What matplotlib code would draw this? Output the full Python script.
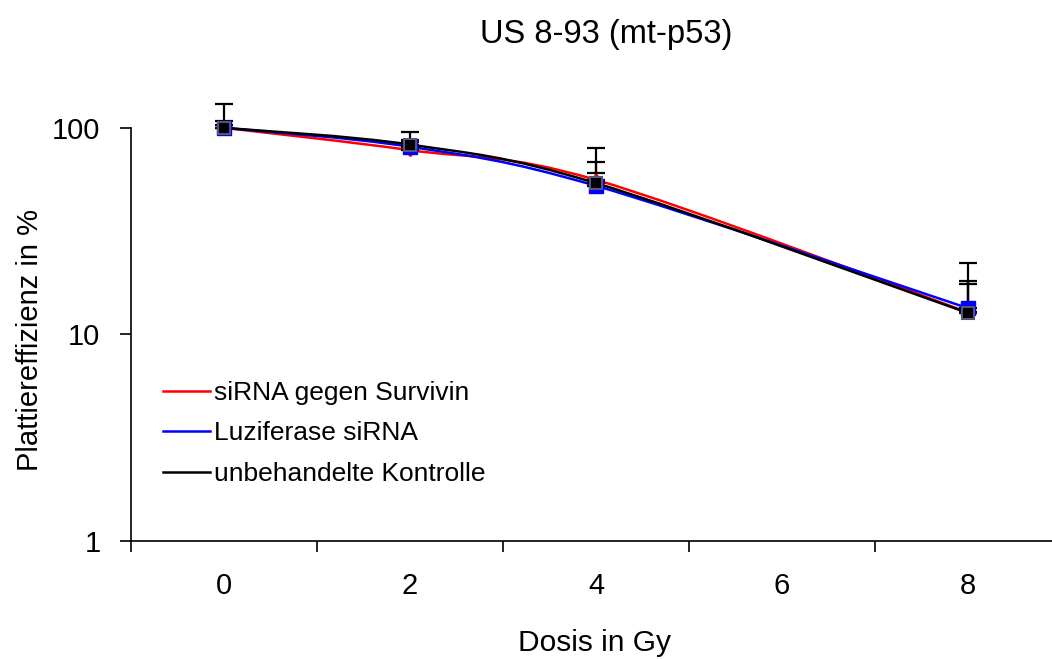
import numpy as np
import matplotlib.pyplot as plt
from matplotlib.path import Path
from matplotlib.patches import PathPatch

plt.rcParams['font.family'] = ['Liberation Sans', 'DejaVu Sans']

dose = [0, 2, 4, 8]
survivin = [100, 78, 56, 12.8]
luciferase = [100, 81, 52.4, 13.4]
kontrolle = [100, 83, 54, 12.7]

survivin_err_top = [130.7, 95.6, 68.5, 17.6]
luciferase_err_top = [108, 87.5, 60.5, 22.2]
kontrolle_err_top = [103, 85, 80, 18.2]

labels = ['siRNA gegen Survivin', 'Luziferase siRNA', 'unbehandelte Kontrolle']
colors = ['#ff0000', '#0000ff', '#000000']


def smooth_path(x, y):
    # Excel-like smoothed line: cubic bezier segments, controls in log space
    x = np.asarray(x, float)
    ly = np.log10(np.asarray(y, float))
    n = len(x)
    verts = [(x[0], 10 ** ly[0])]
    codes = [Path.MOVETO]
    for i in range(n - 1):
        i0 = max(i - 1, 0)
        i3 = min(i + 2, n - 1)
        c1 = (x[i] + (x[i + 1] - x[i0]) / 6, ly[i] + (ly[i + 1] - ly[i0]) / 6)
        c2 = (x[i + 1] - (x[i3] - x[i]) / 6, ly[i + 1] - (ly[i3] - ly[i]) / 6)
        verts += [(c1[0], 10 ** c1[1]), (c2[0], 10 ** c2[1]), (x[i + 1], 10 ** ly[i + 1])]
        codes += [Path.CURVE4] * 3
    return Path(verts, codes)


fig = plt.figure(figsize=(10.52, 6.59), dpi=100)
ax = fig.add_axes([0.1245, 0.179, 0.884, 0.627])
ax.set_yscale('log')
ax.set_xlim(-1, 9)
ax.set_ylim(1, 100)

series = [survivin, luciferase, kontrolle]
errs = [survivin_err_top, luciferase_err_top, kontrolle_err_top]

for vals, c in zip(series, colors):
    ax.add_patch(PathPatch(smooth_path(dose, vals), fill=False, edgecolor=c, lw=1.8,
                           zorder=2, clip_on=False))

for vals, top in zip(series, errs):
    up = np.array(top) - np.array(vals)
    eb = ax.errorbar(dose, vals, yerr=[np.zeros(len(vals)), up], fmt='none', ecolor='black',
                     elinewidth=1.6, capsize=6.5, capthick=1.6, zorder=3)
    for art in eb.lines[1] + eb.lines[2]:
        art.set_clip_on(False)

ax.plot(dose, survivin, ls='none', marker='D', ms=6, mfc='red', mec='red', zorder=4, clip_on=False)
ax.plot(dose, luciferase, ls='none', marker='s', ms=10, mfc='#0000ff', mec='#0000ff', zorder=5,
        clip_on=False)
ax.plot(dose, kontrolle, ls='none', marker='s', ms=9, mfc='black', mec='#555577', mew=1.5,
        zorder=6, clip_on=False)

for lab, c in zip(labels, colors):
    ax.plot([], [], color=c, lw=1.8, label=lab)
ax.legend(loc='upper left', bbox_to_anchor=(0.0344, 0.387), bbox_transform=ax.transAxes,
          frameon=False, fontsize=19, handlelength=1.8, handletextpad=0.12,
          labelspacing=0.62, borderaxespad=0, borderpad=0)

for s in ['top', 'right']:
    ax.spines[s].set_visible(False)
ax.spines['left'].set_linewidth(1.2)
ax.spines['bottom'].set_linewidth(1.2)

ax.set_yticks([1, 10, 100])
ax.set_yticklabels(['1', '10', '100'])
ax.yaxis.set_minor_locator(plt.NullLocator())
ax.tick_params(axis='y', which='major', direction='out', length=8, width=1.2, labelsize=21, pad=14)

ax.set_xticks([-1, 1, 3, 5, 7, 9])
ax.set_xticklabels([''] * 6)
ax.set_xticks(dose + [6], minor=True)
ax.set_xticklabels(['0', '2', '4', '8', '6'], minor=True)
ax.tick_params(axis='x', which='major', direction='out', length=8, width=1.2)
ax.tick_params(axis='x', which='minor', length=0, labelsize=21, pad=22)

fig.text(606 / 1052, 1 - 35 / 659, 'US 8-93 (mt-p53)', ha='center', va='center', fontsize=23.5)
fig.text(30 / 1052, 1 - 340 / 659, 'Plattiereffizienz in %', ha='center', va='center',
         rotation=90, fontsize=21)
fig.text(594 / 1052, 1 - 643 / 659, 'Dosis in Gy', ha='center', va='center', fontsize=21.5)

fig.savefig('out.png', dpi=100)
